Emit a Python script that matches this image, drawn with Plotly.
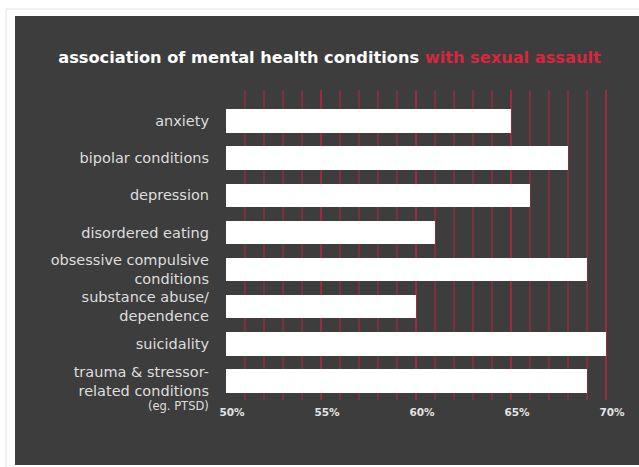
import plotly.graph_objects as go

categories = [
    "anxiety",
    "bipolar conditions",
    "depression",
    "disordered eating",
    "obsessive compulsive<br>conditions",
    "substance abuse/<br>dependence",
    "suicidality",
    "trauma & stressor-<br>related conditions",
]
values = [65, 68, 66, 61, 69, 60, 70, 69]
x_tick_vals = [50, 55, 60, 65, 70]
x_tick_text = ["50%", "55%", "60%", "65%", "70%"]
minor_grid_vals = list(range(50, 71))
footnote = "(eg. PTSD)"
title_main = "association of mental health conditions "
title_red = "with sexual assault"

W, H = 639, 467
L, R_EDGE, T, B_EDGE = 226, 625, 90, 400
pw, ph = R_EDGE - L, B_EDGE - T

def px(x):
    return (x - L) / pw

def py(y):
    return (B_EDGE - y) / ph

ypos = list(range(len(categories)))

fig = go.Figure()
fig.add_trace(go.Bar(
    x=[v - 50 for v in values], base=50, y=ypos, orientation="h",
    marker=dict(color="#ffffff", line=dict(width=0)),
    width=0.63, hoverinfo="skip",
))

BG = "#3d3d3d"
fig.add_shape(type="rect", xref="paper", yref="paper",
              x0=px(6), x1=px(660), y0=py(9), y1=py(480),
              line=dict(color="#e2e2e2", width=1), fillcolor="#ffffff", layer="below")
fig.add_shape(type="rect", xref="paper", yref="paper",
              x0=px(15), x1=px(660), y0=py(16), y1=py(465),
              line=dict(width=0), fillcolor=BG, layer="below")

grid_col = "rgba(180,38,66,0.55)"
fig.update_xaxes(
    range=[50, 71], tickmode="array", tickvals=x_tick_vals, ticktext=x_tick_text,
    showgrid=True, gridcolor=grid_col, gridwidth=1.5,
    minor=dict(tickmode="array", tickvals=minor_grid_vals, showgrid=True,
               gridcolor=grid_col, gridwidth=1.5, ticks=""),
    zeroline=False, showline=False, ticks="",
    tickfont=dict(family="DejaVu Sans", size=10.5, color="#e4e4e4", weight="bold"),
    ticklabelshift=6, ticklabelstandoff=4,
)
fig.update_yaxes(
    range=[7.51, -0.835], tickmode="array", tickvals=ypos, ticktext=categories,
    showgrid=False, zeroline=False, showline=False, ticks="",
    tickfont=dict(family="DejaVu Sans", size=14.5, color="#dedede"),
    ticklabelstandoff=16,
)

fig.add_annotation(
    text=footnote, xref="paper", yref="y", x=0, y=7, xanchor="right", yanchor="middle",
    xshift=-15, yshift=-25, showarrow=False,
    font=dict(family="DejaVu Sans", size=11.5, color="#dedede"),
)

fig.update_layout(
    width=W, height=H,
    margin=dict(l=L, r=W - R_EDGE, t=T, b=H - B_EDGE),
    paper_bgcolor="#ffffff", plot_bgcolor="rgba(0,0,0,0)",
    showlegend=False, bargap=0,
    title=dict(
        text=f"<b>{title_main}<span style='color:#d8263f'>{title_red}</span></b>",
        xref="container", yref="container", x=329.5 / W, y=1 - 57.7 / H,
        xanchor="center", yanchor="middle",
        font=dict(family="DejaVu Sans", size=16.2, color="#ffffff"),
    ),
)

fig.write_html("out.html", config={"displayModeBar": False},
               post_script="document.body.style.margin='0';")
